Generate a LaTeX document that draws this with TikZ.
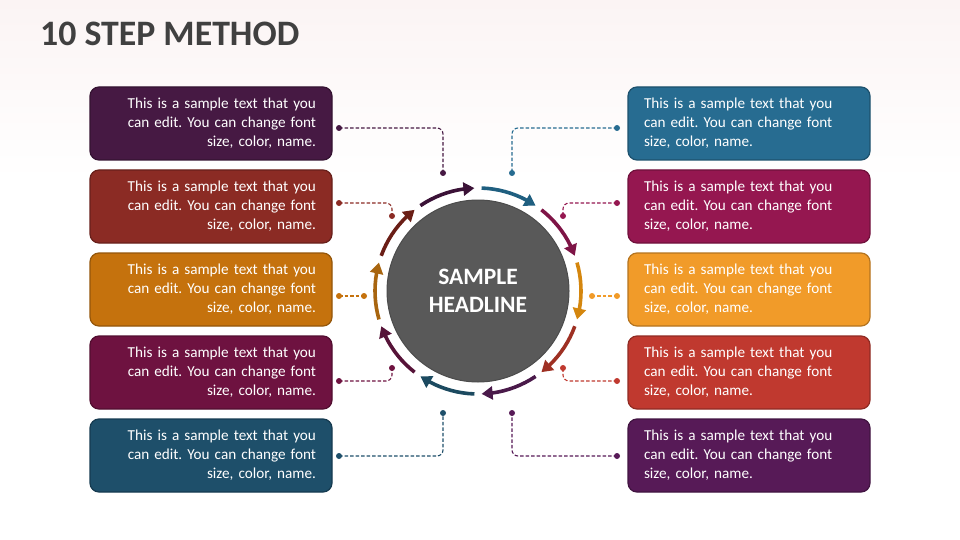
\documentclass[tikz,border=0pt]{standalone}
\usepackage{fontspec}
\setmainfont{Carlito}
\frenchspacing
\usetikzlibrary{arrows.meta,bending,calc}
\definecolor{pinkbg}{HTML}{FBF4F4}
\definecolor{titlec}{HTML}{404040}
\definecolor{Lone}{HTML}{461943}
\definecolor{Ltwo}{HTML}{8B2B24}
\definecolor{Lthree}{HTML}{C5720D}
\definecolor{Lfour}{HTML}{6E1240}
\definecolor{Lfive}{HTML}{1E4F6A}
\definecolor{Rone}{HTML}{276C91}
\definecolor{Rtwo}{HTML}{951750}
\definecolor{Rthree}{HTML}{F19B29}
\definecolor{Rfour}{HTML}{C0392F}
\definecolor{Rfive}{HTML}{571A57}
\definecolor{Aone}{HTML}{1F5F80}
\definecolor{Atwo}{HTML}{7E1446}
\definecolor{Athree}{HTML}{D4860E}
\definecolor{Afour}{HTML}{9E3023}
\definecolor{Afive}{HTML}{4A1A4A}
\definecolor{Asix}{HTML}{1C4A60}
\definecolor{Aseven}{HTML}{561338}
\definecolor{Aeight}{HTML}{A8650F}
\definecolor{Anine}{HTML}{6A1E16}
\definecolor{Aten}{HTML}{3B1237}
\definecolor{hub}{HTML}{595959}
\begin{document}
\begin{tikzpicture}[x=1pt,y=-1pt,
  box/.style={rounded corners=9pt, minimum width=242pt, minimum height=73pt,
    inner xsep=16pt, inner ysep=0pt, text width=210pt, text=white,
    font=\fontsize{15.2}{19}\selectfont, line width=1.2pt},
  lbox/.style={box, align=right, fill=#1, draw=#1!75!black},
  rbox/.style={box, align=left, fill=#1, draw=#1!75!black},
  dot/.style={circle, fill=#1, inner sep=0pt, minimum size=6pt},
  conn/.style={draw=#1, dash pattern=on 3.5pt off 2pt, line width=1.1pt, rounded corners=6pt},
  ring/.style={line width=3.6pt, draw=#1, -{Triangle[length=11pt,width=13pt]}},
]
\useasboundingbox (0,0) rectangle (960,540);
\fill[white] (0,0) rectangle (960,540);
\shade[top color=pinkbg, bottom color=white] (0,0) rectangle (960,180);

\node[anchor=base west, text=titlec, font=\fontsize{35.8}{42}\selectfont\bfseries, inner sep=0pt] (title) at (40,46) {10 STEP METHOD};

% left boxes
\node[lbox=Lone]   (L1) at (211,123.5) {This is a sample text that you\\can edit. You can change font\\size, color, name.};
\node[lbox=Ltwo]   (L2) at (211,206.5) {This is a sample text that you\\can edit. You can change font\\size, color, name.};
\node[lbox=Lthree] (L3) at (211,289.5) {This is a sample text that you\\can edit. You can change font\\size, color, name.};
\node[lbox=Lfour]  (L4) at (211,372.5) {This is a sample text that you\\can edit. You can change font\\size, color, name.};
\node[lbox=Lfive]  (L5) at (211,455.5) {This is a sample text that you\\can edit. You can change font\\size, color, name.};
% right boxes
\node[rbox=Rone]   (R1) at (749,123.5) {This is a sample text that you\\can edit. You can change font\\size, color, name.};
\node[rbox=Rtwo]   (R2) at (749,206.5) {This is a sample text that you\\can edit. You can change font\\size, color, name.};
\node[rbox=Rthree] (R3) at (749,289.5) {This is a sample text that you\\can edit. You can change font\\size, color, name.};
\node[rbox=Rfour]  (R4) at (749,372.5) {This is a sample text that you\\can edit. You can change font\\size, color, name.};
\node[rbox=Rfive]  (R5) at (749,455.5) {This is a sample text that you\\can edit. You can change font\\size, color, name.};

% hub
\node[circle, minimum size=182pt, fill=hub, draw=hub!85!black, line width=1pt, text=white,
  align=center, font=\fontsize{23.5}{28}\selectfont\bfseries] (C) at (478,291) {SAMPLE\\HEADLINE};

% ring arrows (clockwise)
\foreach \k/\col in {0/Aone,1/Atwo,2/Athree,3/Afour,4/Afive,5/Asix,6/Aseven,7/Aeight,8/Anine,9/Aten}{
  \pgfmathsetmacro\ta{-(90-36*\k-2)}
  \pgfmathsetmacro\tb{-(90-36*\k-34)}
  \draw[ring=\col] ($(C.center)+(\ta:103)$) arc[start angle=\ta, end angle=\tb, radius=103];
}

% connector dots
\node[dot=Lone]   (l1a) at (339,128) {}; \node[dot=Lone]   (l1b) at (443,173) {};
\node[dot=Ltwo]   (l2a) at (339,203) {}; \node[dot=Ltwo]   (l2b) at (392,216) {};
\node[dot=Lthree] (l3a) at (339,296) {}; \node[dot=Lthree] (l3b) at (364,296) {};
\node[dot=Lfour]  (l4a) at (339,381) {}; \node[dot=Lfour]  (l4b) at (392,368) {};
\node[dot=Lfive]  (l5a) at (339,456) {}; \node[dot=Lfive]  (l5b) at (443,413) {};
\node[dot=Rone]   (r1a) at (617,128) {}; \node[dot=Rone]   (r1b) at (512,173) {};
\node[dot=Rtwo]   (r2a) at (617,203) {}; \node[dot=Rtwo]   (r2b) at (563,216) {};
\node[dot=Rthree] (r3a) at (617,296) {}; \node[dot=Rthree] (r3b) at (592,296) {};
\node[dot=Rfour]  (r4a) at (617,381) {}; \node[dot=Rfour]  (r4b) at (563,368) {};
\node[dot=Rfive]  (r5a) at (617,456) {}; \node[dot=Rfive]  (r5b) at (512,413) {};

% connectors
\draw[conn=Lone]   (l1a.center) -| (l1b.center);
\draw[conn=Ltwo]   (l2a.center) -| (l2b.center);
\draw[conn=Lthree] (l3a.center) -- (l3b.center);
\draw[conn=Lfour]  (l4a.center) -| (l4b.center);
\draw[conn=Lfive]  (l5a.center) -| (l5b.center);
\draw[conn=Rone]   (r1a.center) -| (r1b.center);
\draw[conn=Rtwo]   (r2a.center) -| (r2b.center);
\draw[conn=Rthree] (r3a.center) -- (r3b.center);
\draw[conn=Rfour]  (r4a.center) -| (r4b.center);
\draw[conn=Rfive]  (r5a.center) -| (r5b.center);
\end{tikzpicture}
\end{document}
